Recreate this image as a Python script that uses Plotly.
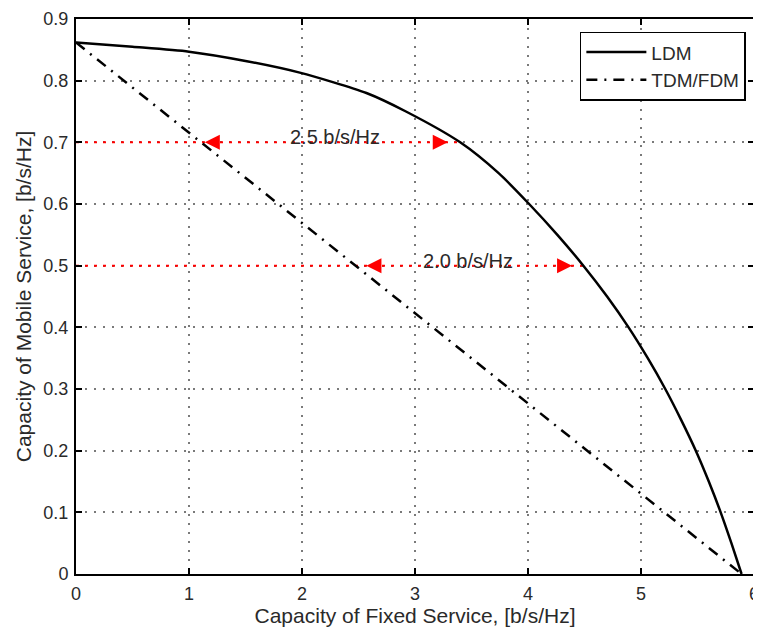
import plotly.graph_objects as go

# LDM capacity curve
ldm_x = [0.0, 0.5, 1.0, 1.5, 1.98, 2.57, 2.92, 3.40, 3.74, 4.01, 4.26, 4.49, 4.70, 4.89, 5.06, 5.215, 5.355, 5.485, 5.60, 5.705, 5.80, 5.89]
ldm_y = [0.862, 0.855, 0.847, 0.832, 0.813, 0.780, 0.750, 0.700, 0.650, 0.600, 0.550, 0.500, 0.450, 0.400, 0.350, 0.300, 0.250, 0.200, 0.150, 0.100, 0.050, 0.0]

# TDM/FDM line
tdm_x = [0.0, 5.89]
tdm_y = [0.862, 0.0]

# Gain indicators
gain_levels = [0.7, 0.5]
gain_line_end = [3.40, 4.49]
gain_left_arrow = [1.14, 2.57]
gain_right_arrow = [3.29, 4.39]
gain_labels = ["2.5 b/s/Hz", "2.0 b/s/Hz"]
gain_label_x = [2.29, 3.47]

x_ticks = [0, 1, 2, 3, 4, 5, 6]
y_ticks = [0, 0.1, 0.2, 0.3, 0.4, 0.5, 0.6, 0.7, 0.8, 0.9]
y_tick_text = ["0", "0.1", "0.2", "0.3", "0.4", "0.5", "0.6", "0.7", "0.8", "0.9"]

FONT = "Liberation Sans, Arial, Helvetica, sans-serif"
TXT = "#2a2a2a"

fig = go.Figure()

# red dotted gain lines + arrows
for lvl, xe, xl, xr, lab, lx in zip(gain_levels, gain_line_end, gain_left_arrow,
                                     gain_right_arrow, gain_labels, gain_label_x):
    fig.add_trace(go.Scatter(x=[0, xe], y=[lvl, lvl], mode="lines",
                             line=dict(color="red", width=2, dash="3px,6px"),
                             showlegend=False, hoverinfo="skip"))
    fig.add_trace(go.Scatter(x=[xl, xr], y=[lvl, lvl], mode="markers",
                             marker=dict(symbol=["arrow-left", "arrow-right"], size=15,
                                         color="red", line=dict(width=0)),
                             showlegend=False, hoverinfo="skip"))
    fig.add_annotation(x=lx, y=lvl, text=lab, showarrow=False, yshift=5,
                       font=dict(family=FONT, size=20, color=TXT))

fig.add_trace(go.Scatter(x=ldm_x, y=ldm_y, mode="lines", name="LDM",
                         line=dict(color="black", width=2.5, shape="spline", smoothing=0.7)))
fig.add_trace(go.Scatter(x=tdm_x, y=tdm_y, mode="lines", name="TDM/FDM",
                         line=dict(color="black", width=2.5, dash="11px,7px,2px,7px")))

axis_common = dict(showline=True, linecolor="black", linewidth=2, mirror="ticks",
                   ticks="inside", ticklen=6, tickwidth=1.5, tickcolor="black",
                   showgrid=True, gridcolor="#7a7a7a", gridwidth=1.5, griddash="2px,7px",
                   zeroline=False, automargin=False,
                   tickfont=dict(family=FONT, size=18, color=TXT))

fig.update_xaxes(range=[0, 6], tickvals=x_ticks, ticklabelstandoff=2,
                 title=dict(text="Capacity of Fixed Service, [b/s/Hz]", standoff=4,
                            font=dict(family=FONT, size=21, color=TXT)),
                 **axis_common)
fig.update_yaxes(range=[0, 0.9], tickvals=y_ticks, ticktext=y_tick_text, ticklabelstandoff=2,
                 title=dict(text="Capacity of Mobile Service, [b/s/Hz]", standoff=6,
                            font=dict(family=FONT, size=21, color=TXT)),
                 **axis_common)

fig.update_layout(
    width=753, height=622,
    margin=dict(l=68, r=7, t=11, b=56),
    plot_bgcolor="white", paper_bgcolor="white",
    font=dict(family=FONT, size=18, color=TXT),
    legend=dict(x=0.988, y=0.977, xanchor="right", yanchor="top",
                bgcolor="white", bordercolor="black", borderwidth=1.5,
                itemwidth=60,
                font=dict(family=FONT, size=19, color=TXT), tracegroupgap=0),
    showlegend=True,
)

fig.write_html("out.html")
